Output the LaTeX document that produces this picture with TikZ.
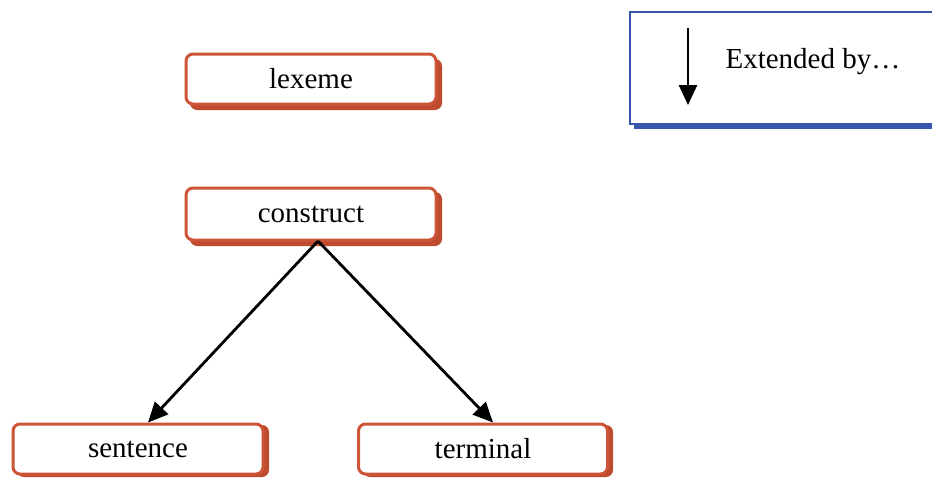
\documentclass[tikz,border=0pt]{standalone}
\usepackage{fontspec}
\setmainfont{Liberation Serif}
\usetikzlibrary{arrows.meta}
\definecolor{boxred}{RGB}{205,85,55}
\definecolor{shadowred}{RGB}{190,75,45}
\definecolor{legblue}{RGB}{55,85,175}
\tikzset{
  x=1pt, y=-1pt,
  term/.style={draw=boxred, line width=3pt, rounded corners=7pt, fill=white,
    minimum width=250pt, minimum height=50pt, font=\fontsize{29}{32}\selectfont,
    inner sep=0pt},
  termshadow/.style={fill=shadowred, rounded corners=7pt},
  ext/.style={-{Triangle[length=20pt,width=18pt]}, line width=2.8pt, black},
}
\begin{document}
\begin{tikzpicture}
\useasboundingbox (0,0) rectangle (932,479);
\clip (0,0) rectangle (932,479);

% shadows of the term boxes
\fill[termshadow] (190,59) rectangle (442,110);
\fill[termshadow] (190,192) rectangle (442,246);
\fill[termshadow] (17,425) rectangle (269,477);
\fill[termshadow] (363,425) rectangle (613,477);

\node[term] (lexeme) at (311,79) {lexeme};
\node[term, minimum height=52pt] (construct) at (311,214) {construct};
\node[term] (sentence) at (138,449) {sentence};
\node[term, minimum width=249pt] (terminal) at (483,449) {terminal};

% legend
\fill[legblue] (634,16) rectangle (940,129);
\draw[legblue, line width=2.5pt, fill=white] (630,12) rectangle (940,124);
\coordinate (legtop) at (688,28);
\coordinate (legbot) at (688,105);
\draw[ext] (legtop) -- (legbot);
\node[anchor=west, font=\fontsize{29}{32}\selectfont] (legtext) at (722,62) {Extended by\ldots};

% extension arrows
\coordinate (cbot) at (318,241);
\draw[ext] (cbot) -- ([xshift=10pt]sentence.north);
\draw[ext] (cbot) -- ([xshift=10pt]terminal.north);
\end{tikzpicture}
\end{document}
